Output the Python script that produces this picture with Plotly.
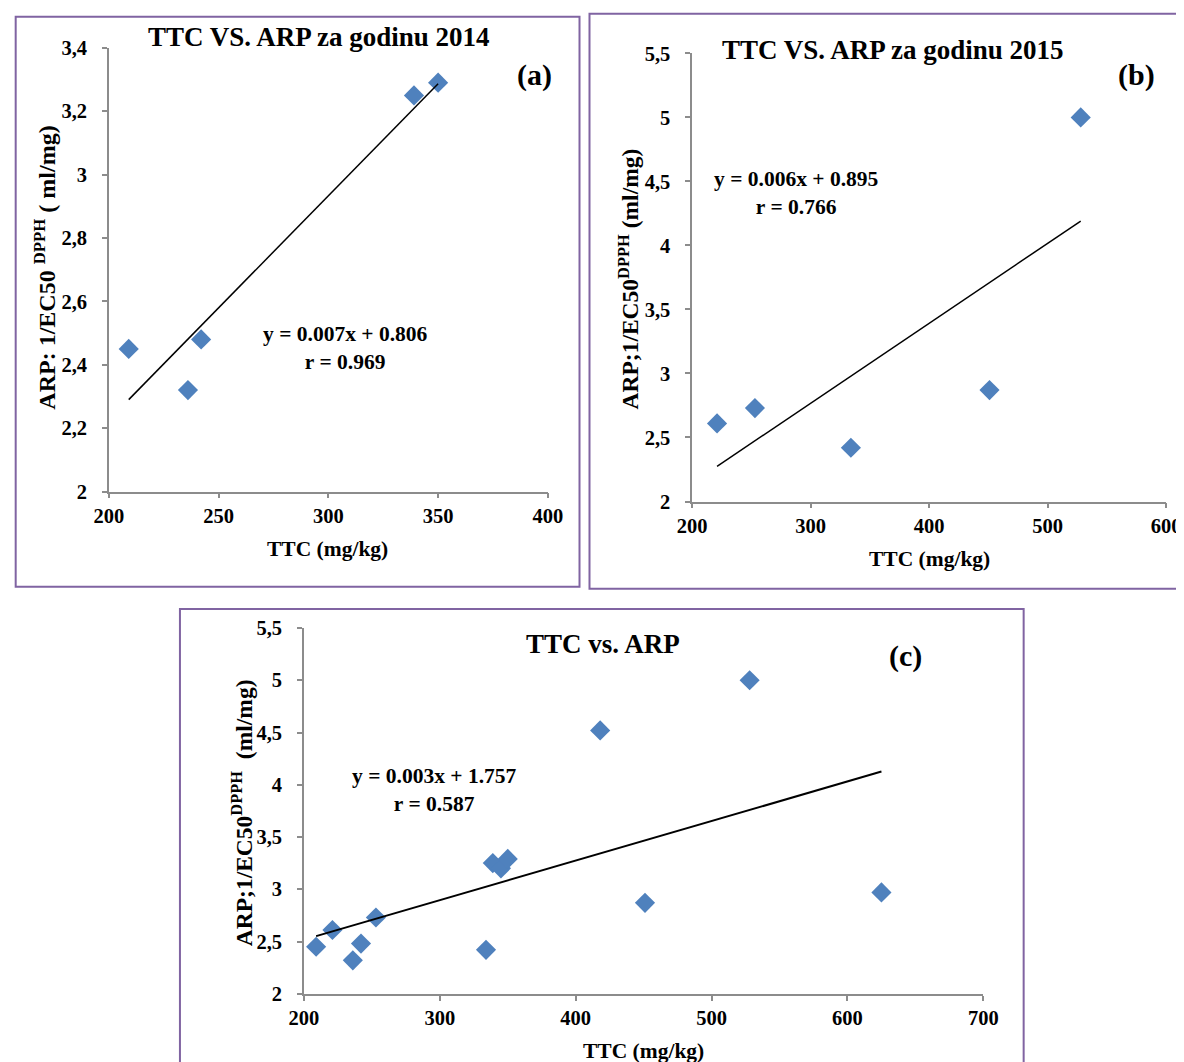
import numpy as np
import plotly.graph_objects as go

# ---- data ----
ttc_2014 = [209, 236, 242, 339, 350]
arp_2014 = [2.45, 2.32, 2.48, 3.25, 3.29]

ttc_2015 = [221, 253, 334, 451, 528]
arp_2015 = [2.61, 2.73, 2.42, 2.87, 5.00]

ttc_all = [209, 221, 236, 242, 253, 334, 339, 345, 350, 418, 451, 528, 625]
arp_all = [2.45, 2.61, 2.32, 2.48, 2.73, 2.42, 3.25, 3.20, 3.29, 4.52, 2.87, 5.00, 2.97]

eq_a = "y = 0.007x + 0.806<br>r = 0.969"
eq_b = "y = 0.006x + 0.895<br>r = 0.766"
eq_c = "y = 0.003x + 1.757<br>r = 0.587"

OFF = 8  # default page margin of the browser
W, H = 1184, 1062
FONT = "Liberation Serif"
BLUE = "#4F81BD"
PURPLE = "#8064A2"
AXC = "#8C8C8C"

# mapping from target picture pixels to figure fractions (measured calibration)
SX, BX = 0.975, 14.5
SY, BY = 0.98, 10.0


def px(x, clamp=False):
    f = (x - BX) / SX - OFF
    if clamp:
        f = max(f, -OFF + 0.5)
    return f / W


def py(y, clamp=False):
    f = (y - BY) / SY - OFF
    if clamp:
        f = max(f, -OFF + 0.5)
    return 1 - f / H


fig = go.Figure()

panels = [
    dict(x=ttc_2014, y=arp_2014, xa="x", ya="y"),
    dict(x=ttc_2015, y=arp_2015, xa="x2", ya="y2"),
    dict(x=ttc_all, y=arp_all, xa="x3", ya="y3"),
]
lw = [1.5, 1.5, 2]
for i, p in enumerate(panels):
    fig.add_trace(go.Scatter(x=p["x"], y=p["y"], mode="markers", xaxis=p["xa"], yaxis=p["ya"],
                             marker=dict(symbol="diamond", size=15.5, color=BLUE), showlegend=False,
                             cliponaxis=False))
    k, b = np.polyfit(p["x"], p["y"], 1)
    xs = [min(p["x"]), max(p["x"])]
    fig.add_trace(go.Scatter(x=xs, y=[k * v + b for v in xs], mode="lines", xaxis=p["xa"], yaxis=p["ya"],
                             line=dict(color="black", width=lw[i]), showlegend=False))


def axis(dom, rng, dtick, standoff=0):
    return dict(domain=dom, range=rng, dtick=dtick, tick0=rng[0], showgrid=False, zeroline=False,
                showline=True, linecolor=AXC, linewidth=1.6, ticks="outside", ticklen=5,
                tickcolor=AXC, tickwidth=1.6, ticklabelstandoff=standoff,
                tickfont=dict(family=FONT, size=20.5, color="black", weight="bold"))


fig.update_layout(
    xaxis=dict(axis([px(108.3), px(547.3)], [200, 400], 50), anchor="y"),
    yaxis=dict(axis([py(490.7), py(46.7)], [2, 3.4], 0.2, 11), anchor="x"),
    xaxis2=dict(axis([px(691.7), px(1165.7)], [200, 600], 100), anchor="y2"),
    yaxis2=dict(axis([py(500.7), py(52.3)], [2, 5.5], 0.5, 11), anchor="x2"),
    xaxis3=dict(axis([px(303.3), px(983)], [200, 700], 100), anchor="y3"),
    yaxis3=dict(axis([py(993.3), py(627.3)], [2, 5.5], 0.5, 11), anchor="x3"),
)

shapes = []
for (x0, y0, x1, y1) in [(9, 15.5, 579, 586), (589, 12.7, 1215, 588), (179.3, 608.3, 1023.3, 1090)]:
    shapes.append(dict(type="rect", xref="paper", yref="paper",
                       x0=px(x0, True), x1=px(x1), y0=py(y1), y1=py(y0, True),
                       line=dict(color=PURPLE, width=2)))

annotations = []


def ann(text, x, y, size, angle=0):
    annotations.append(dict(text=text, x=px(x), y=py(y), xref="paper", yref="paper", showarrow=False,
                            xanchor="center", yanchor="middle", textangle=angle,
                            font=dict(family=FONT, size=size, color="black", weight="bold")))


ann("TTC VS. ARP za godinu 2014", 318, 36, 27)
ann("TTC VS. ARP za godinu 2015", 893, 49, 27)
ann("TTC vs. ARP", 603, 643, 27)
ann("(a)", 534, 74, 30)
ann("(b)", 1136, 74, 30)
ann("(c)", 905, 655, 30)
ann(eq_a, 345, 347, 21.5)
ann(eq_b, 796, 192, 21.5)
ann(eq_c, 434, 789, 21.5)
ann("TTC (mg/kg)", 327, 548, 21.5)
ann("TTC (mg/kg)", 929, 558, 21.5)
ann("TTC (mg/kg)", 643, 1051, 21.5)
ann("ARP: 1/EC50 <sup>DPPH</sup> ( ml/mg)", 44, 267, 24, -90)
ann("ARP;1/EC50<sup>DPPH</sup> (ml/mg)", 628, 278, 23.5, -90)
ann("ARP;1/EC50<sup>DPPH</sup>  (ml/mg)", 241, 812, 23.5, -90)

fig.update_layout(width=W, height=H, margin=dict(l=0, r=0, t=0, b=0), paper_bgcolor="white",
                  plot_bgcolor="white", separators=", ", shapes=shapes, annotations=annotations)

fig.write_html("out.html")
